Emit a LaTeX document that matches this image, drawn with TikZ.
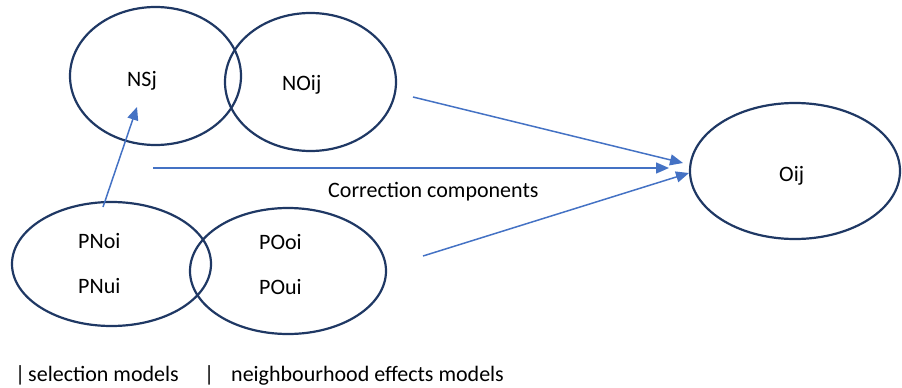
\documentclass[tikz,border=0pt]{standalone}
\usepackage{fontspec}
\setmainfont{Carlito}
\usetikzlibrary{arrows.meta,shapes.geometric}
\definecolor{navy}{RGB}{31,56,100}
\definecolor{arrowblue}{RGB}{68,114,196}
\tikzset{
  venn/.style={draw=navy, line width=2.2pt, ellipse, inner sep=0pt},
  lbl/.style={anchor=base west, inner sep=0pt, font=\fontsize{22}{26}\selectfont},
  conn/.style={draw=arrowblue, line width=1.5pt, -{Triangle[length=13pt,width=11pt]}}
}
\begin{document}
\begin{tikzpicture}[x=1pt,y=-1pt]
\useasboundingbox (0,0) rectangle (902,388);
% ellipses
\node[venn, minimum width=171pt, minimum height=138pt] (NS) at (155.5,76) {};
\node[venn, minimum width=171pt, minimum height=138pt] (NO) at (310.5,82) {};
\node[venn, minimum width=210pt, minimum height=136pt] (O) at (795,171) {};
\node[venn, minimum width=199pt, minimum height=124pt] (PN) at (111.5,264) {};
\node[venn, minimum width=196pt, minimum height=126pt] (PO) at (288,271) {};
% texts
\node[lbl] (tNS) at (127,86) {NSj};
\node[lbl] (tNO) at (282,90.5) {NOij};
\node[lbl] (tO) at (779,181.5) {Oij};
\node[lbl] (tPNo) at (78,248.5) {PNoi};
\node[lbl] (tPNu) at (78,293) {PNui};
\node[lbl] (tPOo) at (259,249) {POoi};
\node[lbl] (tPOu) at (259,294) {POui};
\node[lbl] (tC) at (328,197) {Correction components};
\node[lbl] (b1) at (15,381) {|};
\node[lbl] (b2) at (28,381) {selection models};
\node[lbl] (b3) at (204,381) {|};
\node[lbl] (b4) at (231,381) {neighbourhood effects models};
% connector coordinates
\coordinate (a1s) at (103,207);
\coordinate (a1e) at (137,107);
\coordinate (a2s) at (413,97);
\coordinate (a2e) at (683,163);
\coordinate (a3s) at (153,168);
\coordinate (a3e) at (669,168);
\coordinate (a4s) at (423,256);
\coordinate (a4e) at (689,173);
\draw[conn] (a1s) -- (a1e);
\draw[conn] (a2s) -- (a2e);
\draw[conn] (a3s) -- (a3e);
\draw[conn] (a4s) -- (a4e);
\end{tikzpicture}
\end{document}
